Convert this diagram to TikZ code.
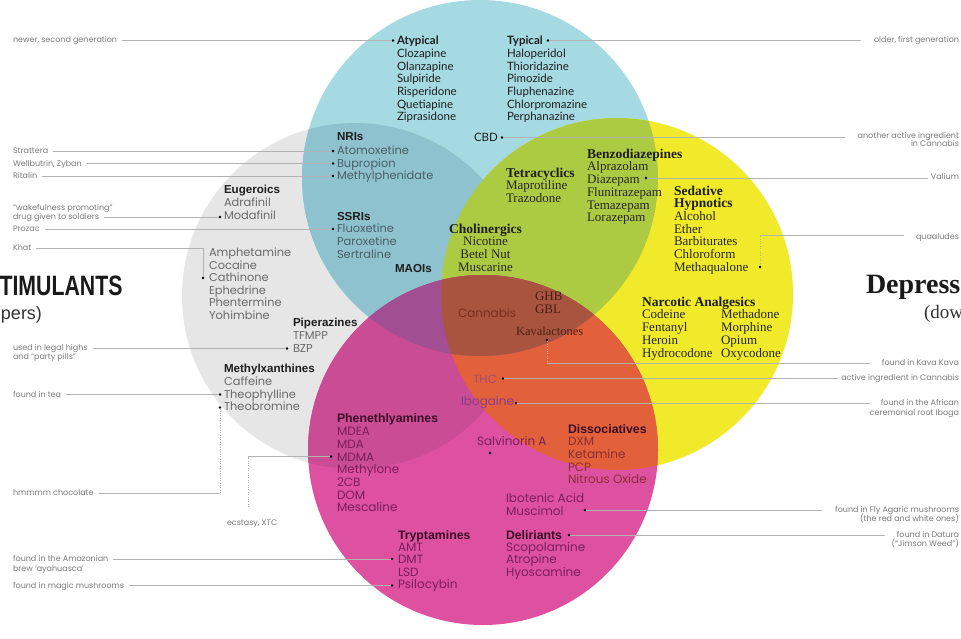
\documentclass[tikz,border=0pt]{standalone}
\usepackage{fontspec}
\usepackage{graphicx}
\setmainfont{Liberation Serif}
\newfontfamily\geofont{Poppins}
\newfontfamily\humfont{Lato}
\newfontfamily\grotfont{Liberation Sans}
\definecolor{cG}{HTML}{E6E6E7}
\definecolor{cC}{HTML}{A6DAE3}
\definecolor{cY}{HTML}{F1EA2A}
\definecolor{cP}{HTML}{DE50A0}
\definecolor{cGC}{HTML}{8FC2CF}
\definecolor{cCY}{HTML}{ADCB42}
\definecolor{cGP}{HTML}{CA4C95}
\definecolor{cCP}{HTML}{A14F92}
\definecolor{cYP}{HTML}{E2603A}
\definecolor{cCYP}{HTML}{A9543F}
\definecolor{tLab}{HTML}{7A7A7A}
\definecolor{tGray}{HTML}{6A6A6A}
\definecolor{tSlate}{HTML}{4B5E66}
\definecolor{tDark}{HTML}{1E1E1E}
\definecolor{tPink}{HTML}{7B1F5B}
\definecolor{tPinkH}{HTML}{3A0C28}
\definecolor{tDiss}{HTML}{8C2E34}
\definecolor{tBrown}{HTML}{4A1F12}
\definecolor{tCann}{HTML}{7A2E1E}
\definecolor{tTHC}{HTML}{A44C6E}
\definecolor{tIbo}{HTML}{8A3C8C}
\begin{document}
\begin{tikzpicture}[x=1pt,y=-1pt,
  every node/.style={inner sep=0pt, outer sep=0pt},
  txt/.style={anchor=base west},
  antip/.style={txt, font=\humfont\fontsize{11.5}{12}\selectfont, text=tDark},
  antiph/.style={txt, font=\humfont\bfseries\fontsize{11.5}{12}\selectfont, text=tDark},
  sanshd/.style={txt, font=\grotfont\bfseries\fontsize{11.6}{12}\selectfont, text=tDark},
  geoitem/.style={txt, font=\geofont\fontsize{11.4}{12}\selectfont, text=tGray},
  slateitem/.style={geoitem, text=tSlate},
  serifhd/.style={txt, font=\rmfamily\bfseries\fontsize{13.5}{14}\selectfont, text=tDark},
  serifitem/.style={txt, font=\rmfamily\fontsize{13}{14}\selectfont, text=black!85},
  pinkhd/.style={txt, font=\grotfont\bfseries\fontsize{12.3}{13}\selectfont, text=tPinkH},
  pinkitem/.style={txt, font=\geofont\fontsize{12}{13}\selectfont, text=tPink},
  lbl/.style={font=\geofont\fontsize{8}{9}\selectfont, text=tLab},
  lbll/.style={lbl, anchor=base west},
  lblr/.style={lbl, anchor=base east},
  leader/.style={draw=black!30, line width=0.45pt},
  dotleader/.style={draw=black!30, line width=0.45pt, dash pattern=on 0.8pt off 1.6pt},
  dotn/.style={circle, fill=black, minimum size=2.6pt}]
\useasboundingbox (0,0) rectangle (961,638);
\fill[white] (0,0) rectangle (961,638);
% ---- circles ----
\fill[cG] (355,296) circle (173pt);
\fill[cC] (480,178) circle (178pt);
\fill[cY] (617,294) circle (176pt);
\fill[cP] (483,450) circle (175pt);
\begin{scope}
  \clip (480,178) circle (178pt);
  \fill[cGC] (355,296) circle (173pt);
  \fill[cCY] (617,294) circle (176pt);
\end{scope}
\begin{scope}
  \clip (483,450) circle (175pt);
  \fill[cGP] (355,296) circle (173pt);
  \fill[cYP] (617,294) circle (176pt);
  \fill[cCP] (480,178) circle (178pt);
  \begin{scope}
    \clip (480,178) circle (178pt);
    \fill[cCYP] (617,294) circle (176pt);
  \end{scope}
\end{scope}
% ---- side titles ----
\node[anchor=base east, font=\grotfont\bfseries\fontsize{28}{30}\selectfont, text=black!90] (stim) at (122.5,295) {\scalebox{0.76}[1]{STIMULANTS}};
\node[anchor=base east, font=\grotfont\fontsize{18}{20}\selectfont, text=black!80] (upp) at (42,319) {(uppers)};
\node[anchor=base west, font=\rmfamily\bfseries\fontsize{28}{30}\selectfont, text=black!90] (depr) at (866,293) {Depressants};
\node[anchor=base west, font=\rmfamily\fontsize{19}{21}\selectfont, text=black!80] (down) at (924,318) {(downers)};
% ---- antipsychotics ----
\node[antiph] (atypH) at (397,44.7) {Atypical};
\foreach \n [count=\i] in {Clozapine,Olanzapine,Sulpiride,Risperidone,Quetiapine,Ziprasidone}
  \node[antip] (atyp\i) at (397,{44.7+12.7*\i}) {\n};
\node[antiph] (typH) at (507,44.7) {Typical};
\foreach \n [count=\i] in {Haloperidol,Thioridazine,Pimozide,Fluphenazine,Chlorpromazine,Perphanazine}
  \node[antip] (typ\i) at (507,{44.7+12.7*\i}) {\n};
\node[antip] (cbd) at (474,141) {CBD};
% ---- antidepressants / stimulants in cyan+gray ----
\node[sanshd] (nriH) at (337,140.7) {NRIs};
\foreach \n [count=\i] in {Atomoxetine,Bupropion,Methylphenidate}
  \node[slateitem] (nri\i) at (337,{142.1+12.5*\i}) {\n};
\node[sanshd] (ssriH) at (337,220.7) {SSRIs};
\foreach \n [count=\i] in {Fluoxetine,Paroxetine,Sertraline}
  \node[slateitem] (ssri\i) at (337,{220+12.7*\i}) {\n};
\node[sanshd] (maoi) at (395,272.7) {MAOIs};
\node[sanshd] (eugH) at (224,193.7) {Eugeroics};
\foreach \n [count=\i] in {Adrafinil,Modafinil}
  \node[geoitem] (eug\i) at (224,{193.7+13*\i}) {\n};
\foreach \n [count=\i] in {Amphetamine,Cocaine,Cathinone,Ephedrine,Phentermine,Yohimbine}
  \node[geoitem] (stm\i) at (209,{244.1+12.5*\i}) {\n};
\node[sanshd] (pipH) at (293,326.7) {Piperazines};
\foreach \n [count=\i] in {TFMPP,BZP}
  \node[geoitem] (pip\i) at (293,{326.7+12.9*\i}) {\n};
\node[sanshd] (mxH) at (224,372.8) {Methylxanthines};
\foreach \n [count=\i] in {Caffeine,Theophylline,Theobromine}
  \node[geoitem] (mx\i) at (224,{372.8+12.7*\i}) {\n};
% ---- depressants (serif) ----
\node[serifhd, anchor=base] (cholH) at (485.5,233.2) {Cholinergics};
\foreach \n [count=\i] in {Nicotine,Betel Nut,Muscarine}
  \node[serifitem, anchor=base] (chol\i) at (485.5,{233.2+12.7*\i}) {\n};
\node[serifhd] (tetH) at (506,177) {Tetracyclics};
\foreach \n [count=\i] in {Maprotiline,Trazodone}
  \node[serifitem] (tet\i) at (506,{177+12.5*\i}) {\n};
\node[serifhd] (benzH) at (587,158) {Benzodiazepines};
\foreach \n [count=\i] in {Alprazolam,Diazepam,Flunitrazepam,Temazepam,Lorazepam}
  \node[serifitem] (benz\i) at (587,{158+12.75*\i}) {\n};
\node[serifhd] (sedH1) at (674,195) {Sedative};
\node[serifhd] (sedH2) at (674,207.7) {Hypnotics};
\foreach \n [count=\i] in {Alcohol,Ether,Barbiturates,Chloroform,Methaqualone}
  \node[serifitem] (sed\i) at (674,{207.7+12.7*\i}) {\n};
\node[serifhd] (narcH) at (642,306) {Narcotic Analgesics};
\foreach \n [count=\i] in {Codeine,Fentanyl,Heroin,Hydrocodone}
  \node[serifitem] (narcA\i) at (642,{306+12.8*\i}) {\n};
\foreach \n [count=\i] in {Methadone,Morphine,Opium,Oxycodone}
  \node[serifitem] (narcB\i) at (721,{306+12.8*\i}) {\n};
\node[serifitem, text=tBrown] (ghb) at (535,300) {GHB};
\node[serifitem, text=tBrown] (gbl) at (535,313) {GBL};
\node[serifitem, text=tBrown, font=\rmfamily\fontsize{12.5}{13}\selectfont] (kava) at (516,335) {Kavalactones};
% ---- center / hallucinogens ----
\node[pinkitem, text=tCann] (cann) at (458,317) {Cannabis};
\node[pinkitem, text=tTHC] (thc) at (473,383.8) {THC};
\node[pinkitem, text=tIbo] (ibo) at (461,405.8) {Ibogaine};
\node[pinkitem] (salv) at (477,445.8) {Salvinorin A};
\node[pinkhd] (pheH) at (337,422) {Phenethlyamines};
\foreach \n [count=\i] in {MDEA,MDA,MDMA,Methylone,2CB,DOM,Mescaline}
  \node[pinkitem] (phe\i) at (337,{422.9+12.7*\i}) {\n};
\node[pinkhd] (disH) at (568,433) {Dissociatives};
\foreach \n [count=\i] in {DXM,Ketamine,PCP,Nitrous Oxide}
  \node[pinkitem, text=tDiss] (dis\i) at (568,{433.1+12.7*\i}) {\n};
\node[pinkitem] (ibot) at (506,502.8) {Ibotenic Acid};
\node[pinkitem] (musc) at (506,515.5) {Muscimol};
\node[pinkhd] (tryH) at (398,539) {Tryptamines};
\foreach \n [count=\i] in {AMT,DMT,LSD,Psilocybin}
  \node[pinkitem] (try\i) at (398,{538.6+12.5*\i}) {\n};
\node[pinkhd] (delH) at (506,539) {Deliriants};
\foreach \n [count=\i] in {Scopolamine,Atropine,Hyoscamine}
  \node[pinkitem] (del\i) at (506,{538.6+12.5*\i}) {\n};
% ---- left labels ----
\node[lbll] (lNewer) at (13,42.6) {newer, second generation};
\node[lbll] (lStrat) at (13,153.6) {Strattera};
\node[lbll] (lWell) at (13,166.1) {Wellbutrin, Zyban};
\node[lbll] (lRit) at (13,178.6) {Ritalin};
\node[lbll] (lWake) at (13,210) {“wakefulness promoting”};
\node[lbll] (lSold) at (13,219.6) {drug given to soldiers};
\node[lbll] (lProz) at (13,231.6) {Prozac};
\node[lbll] (lKhat) at (13,250.6) {Khat};
\node[lbll] (lLegal) at (13,350.2) {used in legal highs};
\node[lbll] (lParty) at (13,359.2) {and “party pills”};
\node[lbll] (lTea) at (13,397.1) {found in tea};
\node[lbll] (lChoc) at (13,495.6) {hmmmm chocolate};
\node[lbll] (lXTC) at (227,525.6) {ecstasy, XTC};
\node[lbll] (lAmaz) at (13,561.1) {found in the Amazonian};
\node[lbll] (lBrew) at (13,571.1) {brew ‘ayahuasca’};
\node[lbll] (lMagic) at (13,588.6) {found in magic mushrooms};
% ---- right labels ----
\node[lblr] (rOlder) at (959,42.6) {older, first generation};
\node[lblr] (rAnoth) at (959,138.6) {another active ingredient};
\node[lblr] (rInCann) at (959,146.6) {in Cannabis};
\node[lblr] (rVal) at (959,179.6) {Valium};
\node[lblr] (rQua) at (959,239.1) {quaaludes};
\node[lblr] (rKava) at (959,365.6) {found in Kava Kava};
\node[lblr] (rActive) at (959,380.6) {active ingredient in Cannabis};
\node[lblr] (rAfr) at (959,405.6) {found in the African};
\node[lblr] (rCer) at (959,415.6) {ceremonial root Iboga};
\node[lblr] (rFly) at (959,512.6) {found in Fly Agaric mushrooms};
\node[lblr] (rRed) at (959,521.6) {(the red and white ones)};
\node[lblr] (rDat) at (959,537.6) {found in Datura};
\node[lblr] (rJim) at (959,546.6) {(“Jimson Weed”)};
% ---- dots ----
\node[dotn] (dAtyp) at (393,40.5) {};
\node[dotn] (dTyp) at (548,40.5) {};
\node[dotn] (dCBD) at (502,137.5) {};
\node[dotn] (dAtom) at (333,151) {};
\node[dotn] (dBup) at (333,163.5) {};
\node[dotn] (dMeth) at (333,176) {};
\node[dotn] (dModa) at (220,217) {};
\node[dotn] (dFluox) at (333,229) {};
\node[dotn] (dCath) at (203,278) {};
\node[dotn] (dBZP) at (287,348.5) {};
\node[dotn] (dTheoph) at (220,394.5) {};
\node[dotn] (dTheob) at (220,407.5) {};
\node[dotn] (dMDMA) at (331,456.5) {};
\node[dotn] (dDMT) at (392,558.8) {};
\node[dotn] (dPsil) at (392,585.5) {};
\node[dotn] (dDiaz) at (646,178) {};
\node[dotn] (dMetq) at (760,267) {};
\node[dotn] (dKava) at (547,340) {};
\node[dotn] (dTHC) at (503,378.5) {};
\node[dotn] (dIbo) at (516,403) {};
\node[dotn] (dSalv) at (490,453) {};
\node[dotn] (dMusc) at (585,510) {};
\node[dotn] (dDel) at (569,535) {};
% ---- bend coordinates ----
\coordinate (kKhat) at (203,248);
\coordinate (kChoc) at (220,493);
\coordinate (kX2) at (248,456.5);
\coordinate (kQua) at (760,235.5);
\coordinate (kKava) at (547,363);
% ---- connectors ----
\draw[leader, shorten <=5pt] (lNewer.east |- dAtyp) -- (dAtyp);
\draw[leader, shorten >=13pt] (dTyp) -- (rOlder.west |- dTyp);
\draw[leader, shorten >=13pt] (dCBD) -- (rAnoth.west |- dCBD);
\draw[leader, shorten <=5pt] (lStrat.east |- dAtom) -- (dAtom);
\draw[leader, shorten <=5pt] (lWell.east |- dBup) -- (dBup);
\draw[leader, shorten <=5pt] (lRit.east |- dMeth) -- (dMeth);
\draw[leader, shorten <=5pt] (lSold.east |- dModa) -- (dModa);
\draw[leader, shorten <=5pt] (lProz.east |- dFluox) -- (dFluox);
\draw[leader, shorten <=5pt] (lKhat.east |- kKhat) -- (kKhat) -- (dCath);
\draw[leader, shorten <=5pt] (lLegal.east |- dBZP) -- (dBZP);
\draw[leader, shorten <=5pt] (lTea.east |- dTheoph) -- (dTheoph);
\draw[leader, shorten <=5pt] (lChoc.east |- kChoc) -- (kChoc);
\draw[dotleader] (kChoc) -- (dTheob);
\draw[dotleader, shorten <=13pt] (lXTC.north -| kX2) -- (kX2);
\draw[leader] (kX2) -- (dMDMA);
\draw[leader, shorten <=5pt] (lAmaz.east |- dDMT) -- (dDMT);
\draw[leader, shorten <=5pt] (lMagic.east |- dPsil) -- (dPsil);
\draw[leader, shorten >=3pt] (dDiaz) -- (rVal.west |- dDiaz);
\draw[dotleader] (dMetq) -- (kQua);
\draw[leader, shorten >=12pt] (kQua) -- (rQua.west |- kQua);
\draw[dotleader] (dKava) -- (kKava);
\draw[leader, shorten >=12pt] (kKava) -- (rKava.west |- kKava);
\draw[leader, shorten >=3pt] (dTHC) -- (rActive.west |- dTHC);
\draw[leader, shorten >=11pt] (dIbo) -- (rAfr.west |- dIbo);
\draw[leader, shorten >=13pt] (dMusc) -- (rFly.west |- dMusc);
\draw[leader, shorten >=12pt] (dDel) -- (rDat.west |- dDel);
\end{tikzpicture}
\end{document}
